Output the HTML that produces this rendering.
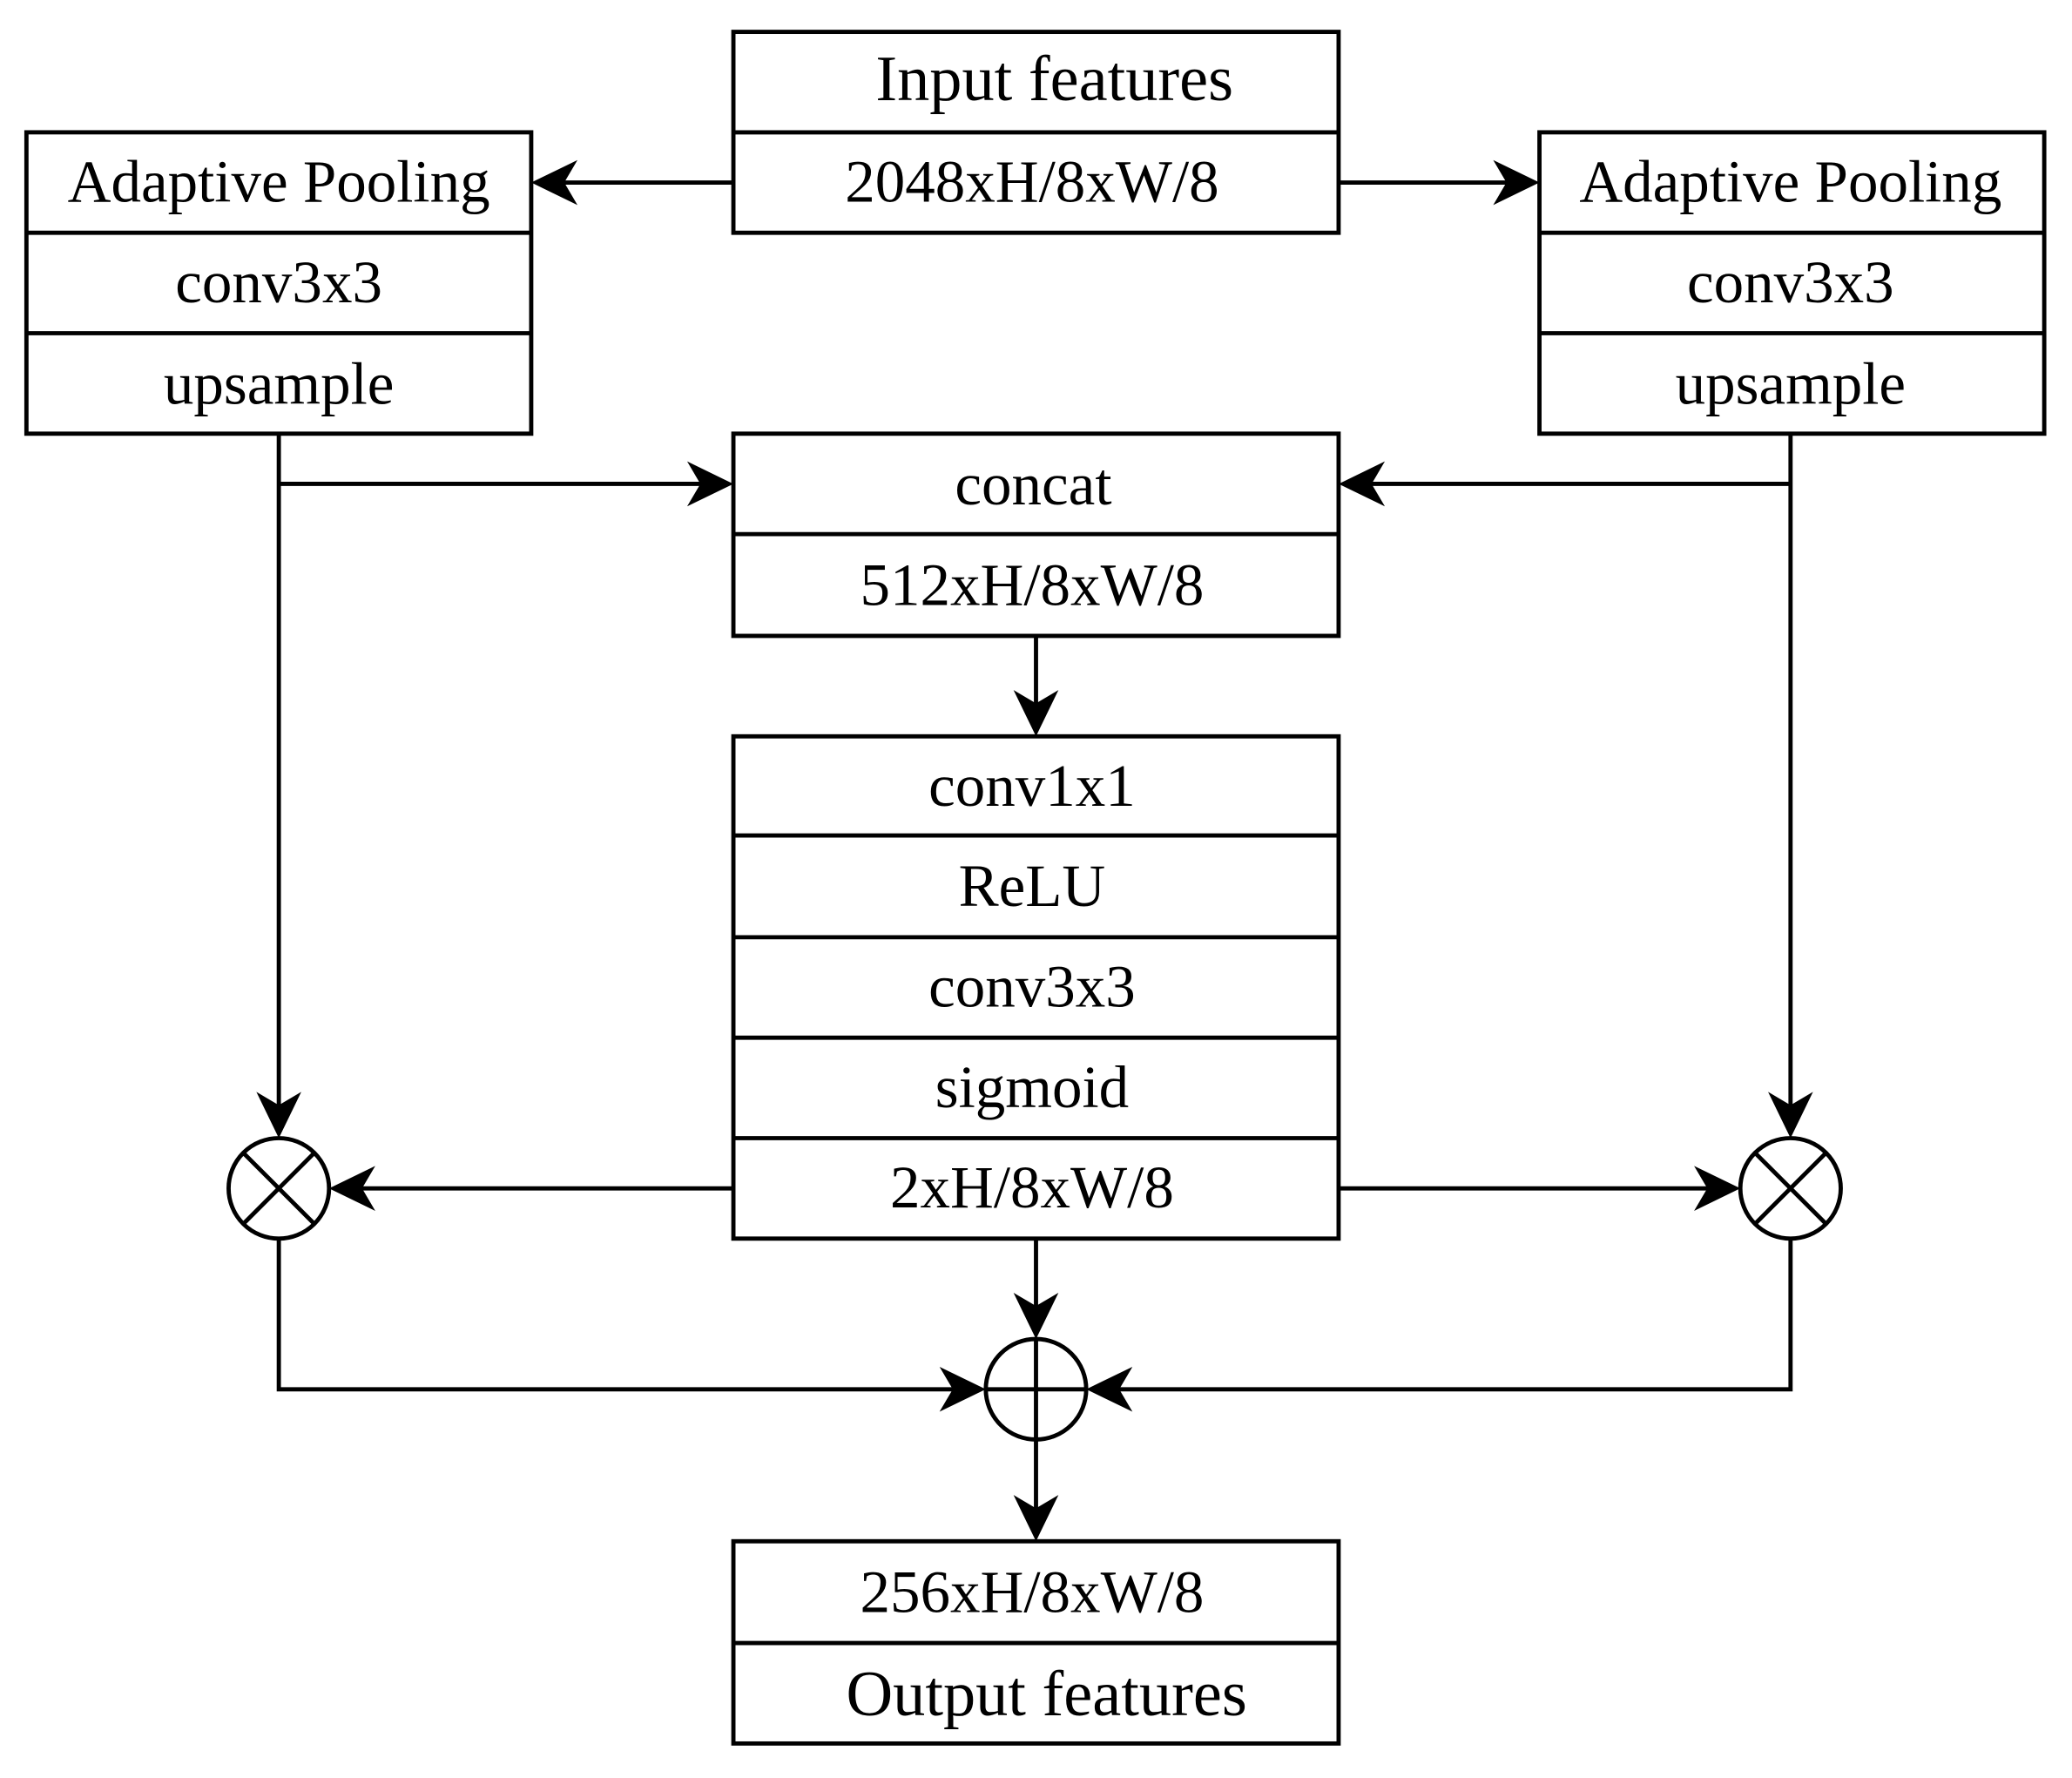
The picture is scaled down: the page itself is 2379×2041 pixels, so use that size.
<!DOCTYPE html>
<html><head><meta charset="utf-8"><style>
html,body{margin:0;padding:0;background:#fff;}
svg{display:block;}
text{font-family:"Liberation Serif",serif;font-size:45.5px;fill:#000;text-anchor:middle;dominant-baseline:central;}
</style></head><body>
<svg width="2379" height="2041" viewBox="0 0 1568 1345" xmlns="http://www.w3.org/2000/svg">
<g fill="none" stroke="#000" stroke-width="3.2">
<rect x="555" y="24" width="458" height="152"/><line x1="555" y1="100" x2="1013" y2="100"/>
<rect x="20" y="100" width="382" height="228"/><line x1="20" y1="176" x2="402" y2="176"/><line x1="20" y1="252" x2="402" y2="252"/>
<rect x="1165" y="100" width="382" height="228"/><line x1="1165" y1="176" x2="1547" y2="176"/><line x1="1165" y1="252" x2="1547" y2="252"/>
<rect x="555" y="328" width="458" height="153"/><line x1="555" y1="404" x2="1013" y2="404"/>
<rect x="555" y="557" width="458" height="380"/>
<line x1="555" y1="632" x2="1013" y2="632"/><line x1="555" y1="709" x2="1013" y2="709"/><line x1="555" y1="785" x2="1013" y2="785"/><line x1="555" y1="861" x2="1013" y2="861"/>
<rect x="555" y="1166" width="458" height="153"/><line x1="555" y1="1243" x2="1013" y2="1243"/>
<circle cx="211" cy="899" r="38"/><line x1="184" y1="872" x2="238" y2="926"/><line x1="238" y1="872" x2="184" y2="926"/>
<circle cx="1355" cy="899" r="38"/><line x1="1328" y1="872" x2="1382" y2="926"/><line x1="1382" y1="872" x2="1328" y2="926"/>
<circle cx="784" cy="1051" r="38"/><line x1="746" y1="1051" x2="822" y2="1051"/><line x1="784" y1="1013" x2="784" y2="1089"/>
<line x1="555" y1="138" x2="420" y2="138"/>
<line x1="1013" y1="138" x2="1147" y2="138"/>
<polyline points="211,328 211,843"/>
<line x1="211" y1="366" x2="537" y2="366"/>
<polyline points="1355,328 1355,843"/>
<line x1="1355" y1="366" x2="1031" y2="366"/>
<line x1="784" y1="481" x2="784" y2="539"/>
<line x1="555" y1="899" x2="267" y2="899"/>
<line x1="1013" y1="899" x2="1299" y2="899"/>
<line x1="784" y1="937" x2="784" y2="995"/>
<polyline points="211,937 211,1051 728,1051"/>
<polyline points="1355,937 1355,1051 840,1051"/>
<line x1="784" y1="1089" x2="784" y2="1148"/>
</g>
<g fill="#000">
<polygon points="402,138 437,121 427,138 437,155"/>
<polygon points="1165,138 1130,121 1140,138 1130,155"/>
<polygon points="555,366 520,349 530,366 520,383"/>
<polygon points="1013,366 1048,349 1038,366 1048,383"/>
<polygon points="211,861 194,826 211,836 228,826"/>
<polygon points="1355,861 1338,826 1355,836 1372,826"/>
<polygon points="784,557 767,522 784,532 801,522"/>
<polygon points="249,899 284,882 274,899 284,916"/>
<polygon points="1317,899 1282,882 1292,899 1282,916"/>
<polygon points="784,1013 767,978 784,988 801,978"/>
<polygon points="746,1051 711,1034 721,1051 711,1068"/>
<polygon points="822,1051 857,1034 847,1051 857,1068"/>
<polygon points="784,1166 767,1131 784,1141 801,1131"/>
</g>
<text x="798" y="60" style="font-size:49px">Input features</text>
<text x="781" y="137">2048xH/8xW/8</text>
<text x="211" y="137">Adaptive Pooling</text>
<text x="211" y="213">conv3x3</text>
<text x="211" y="290">upsample</text>
<text x="1355" y="137">Adaptive Pooling</text>
<text x="1355" y="213">conv3x3</text>
<text x="1355" y="290">upsample</text>
<text x="782" y="366">concat</text>
<text x="781" y="442">512xH/8xW/8</text>
<text x="781" y="594">conv1x1</text>
<text x="781" y="670">ReLU</text>
<text x="781" y="746">conv3x3</text>
<text x="781" y="822">sigmoid</text>
<text x="781" y="898">2xH/8xW/8</text>
<text x="781" y="1204">256xH/8xW/8</text>
<text x="792" y="1282" style="font-size:49px">Output features</text>
</svg>
</body></html>
